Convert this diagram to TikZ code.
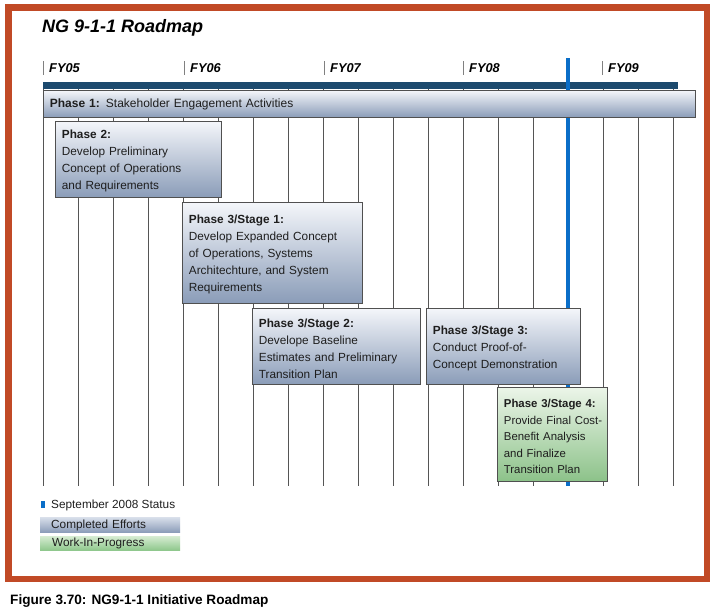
\documentclass[tikz,border=0pt]{standalone}
\usepackage{fontspec}
\setmainfont{Liberation Sans}
\definecolor{frame}{RGB}{193,74,38}
\definecolor{gridc}{RGB}{85,85,85}
\definecolor{tlbar}{RGB}{28,74,110}
\definecolor{status}{RGB}{10,110,200}
\definecolor{bluetop}{RGB}{244,246,250}
\definecolor{bluebot}{RGB}{138,156,184}
\definecolor{greentop}{RGB}{236,245,233}
\definecolor{greenbot}{RGB}{140,194,137}
\definecolor{legbluetop}{RGB}{214,221,233}
\definecolor{legbluebot}{RGB}{140,157,185}
\definecolor{leggreentop}{RGB}{214,236,210}
\definecolor{leggreenbot}{RGB}{140,198,138}
\definecolor{boxedge}{RGB}{80,80,80}
\definecolor{txt}{RGB}{30,30,30}
\newcommand{\topstrut}{\rule{0pt}{12.5pt}}
\begin{document}
\begin{tikzpicture}[x=1pt,y=-1pt,
  stagebox/.style={draw=boxedge, line width=0.8pt, top color=bluetop, bottom color=bluebot,
    anchor=north west, inner xsep=6.5pt, inner ysep=0pt, align=left, text=txt,
    font=\fontsize{11.8}{17}\selectfont},
  greenbox/.style={stagebox, top color=greentop, bottom color=greenbot},
  gridline/.style={draw=gridc, line width=0.9pt},
  fybar/.style={draw=gray, line width=0.9pt},
  fylabel/.style={anchor=base west, font=\fontsize{12.8}{14}\selectfont\bfseries\itshape, inner sep=0pt},
  legendbar/.style={anchor=north west, inner xsep=11pt, inner ysep=0pt, align=left,
    minimum height=14.5pt, text width=118pt, text=txt, font=\fontsize{11.8}{14}\selectfont},
]
\useasboundingbox (0,0) rectangle (717,613);
\fill[white] (0,0) rectangle (717,613);
\draw[frame, line width=6.5pt] (8.5,7.5) rectangle (707,579);

% title
\node[anchor=base west, font=\fontsize{18}{20}\selectfont\bfseries\itshape, inner sep=0pt] (title) at (42,32) {NG 9-1-1 Roadmap};

% fiscal year labels
\foreach \x/\t [count=\i] in {43/FY05,184/FY06,324/FY07,463/FY08,602/FY09}{
  \draw[fybar] (\x,61) -- (\x,75);
  \node[fylabel] (fy\i) at (\x+6,72.7) {\t};
}

% grid
\foreach \k in {0,...,18}{
  \draw[gridline] (43+35*\k,88) -- (43+35*\k,486);
}
\fill[tlbar] (43,82) rectangle (678,88.5);
\draw[status, line width=4pt] (568,58) -- (568,486);

% phases
\node[stagebox, text width=639pt, minimum height=27pt, font=\fontsize{12}{14}\selectfont] (p1) at (43,90)
  {\textbf{Phase 1:} Stakeholder Engagement Activities};
\node[stagebox, text width=153pt, minimum height=76pt] (p2) at (55,121)
  {\topstrut\textbf{Phase 2:}\\Develop Preliminary\\Concept of Operations\\and Requirements};
\node[stagebox, text width=167pt, minimum height=101pt] (s1) at (182,202)
  {\topstrut\textbf{Phase 3/Stage 1:}\\Develop Expanded Concept\\of Operations, Systems\\Architechture, and System\\Requirements};
\node[stagebox, text width=155pt, minimum height=76pt] (s2) at (252,308)
  {\topstrut\textbf{Phase 3/Stage 2:}\\Develope Baseline\\Estimates and Preliminary\\Transition Plan};
\node[stagebox, text width=141pt, minimum height=76pt] (s3) at (426,308)
  {\topstrut\textbf{Phase 3/Stage 3:}\\Conduct Proof-of-\\Concept Demonstration};
\node[greenbox, text width=97pt, minimum height=94pt, font=\fontsize{11.4}{16.6}\selectfont] (s4) at (497,387)
  {\topstrut\mbox{\textbf{Phase 3/Stage 4:}}\\\mbox{Provide Final Cost-}\\Benefit Analysis\\and Finalize\\Transition Plan};

% legend
\fill[status] (41,501) rectangle (45,508);
\node[anchor=west, inner sep=0pt, text=txt, font=\fontsize{11.8}{14}\selectfont] (lstatus) at (51,505.7) {September 2008 Status};
\node[legendbar, top color=legbluetop, bottom color=legbluebot] (lcomp) at (40,517.5) {Completed Efforts};
\node[legendbar, top color=leggreentop, bottom color=leggreenbot, inner xsep=12pt, text width=116pt] (lwip) at (40,536) {Work-In-Progress};

% caption
\node[anchor=base west, font=\fontsize{13.6}{16}\selectfont\bfseries, inner sep=0pt] (cap) at (10,604) {Figure 3.70: NG9-1-1 Initiative Roadmap};
\end{tikzpicture}
\end{document}
